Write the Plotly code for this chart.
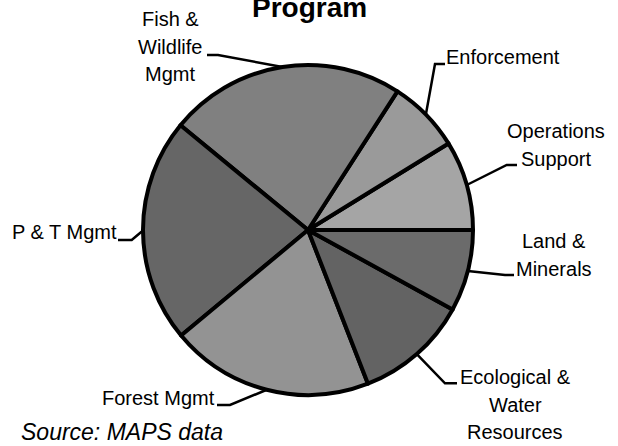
import math
import plotly.graph_objects as go

# ---- data ----
categories = ["Operations Support", "Enforcement", "Fish & Wildlife Mgmt", "P & T Mgmt",
              "Forest Mgmt", "Ecological & Water Resources", "Land & Minerals"]
label_lines = [["Operations", "Support"], ["Enforcement"], ["Fish &", "Wildlife", "Mgmt"], ["P & T Mgmt"],
               ["Forest Mgmt"], ["Ecological &", "Water", "Resources"], ["Land &", "Minerals"]]
values = [8.8, 7.1, 23.2, 22.0, 19.9, 11.1, 8.0]
colors = ["#a5a5a5", "#9a9a9a", "#808080", "#666666", "#939393", "#636363", "#6b6b6b"]
title_text = "Program"
source_text = "Source: MAPS data"

# ---- layout (pixels) ----
W, H = 618, 446
CX, CY, R = 308, 230, 165
LINE_GAP = 27.5
# tx: text centre x, ty: first line centre y
label_pos = [
    dict(tx=556, ty=131, knee=(506.7, 165), end=(517, 165)),
    dict(tx=503, ty=57, knee=(435, 64), end=(445, 64)),
    dict(tx=170, ty=19, knee=(218, 55), end=(207, 55)),
    dict(tx=64, ty=232, knee=(131.7, 240), end=(118, 240)),
    dict(tx=158, ty=398, knee=(230, 405), end=(217, 405)),
    dict(tx=515, ty=377, knee=(445, 383.3), end=(457, 383.3)),
    dict(tx=554, ty=241, knee=(505, 275), end=(514, 275)),
]
FONT = "Arial, Liberation Sans, sans-serif"

def px(x):
    return x / W

def py(y):
    return 1 - y / H

total = sum(values)
# first slice starts at 3 o'clock and runs counterclockwise
rotation = 90 - values[0] / total * 360

fig = go.Figure(go.Pie(
    labels=categories, values=values, sort=False, direction="counterclockwise",
    rotation=rotation, textinfo="none", hoverinfo="skip", showlegend=False,
    marker=dict(colors=colors, line=dict(color="black", width=4)),
    domain=dict(x=[px(CX - R), px(CX + R)], y=[py(CY + R), py(CY - R)]),
))

cum = 0.0
shapes = []
annotations = []
for v, lines, lp in zip(values, label_lines, label_pos):
    mid = (cum + v / 2) / total * 2 * math.pi
    cum += v
    ex = CX + R * math.cos(mid)
    ey = CY - R * math.sin(mid)
    kx, ky = lp["knee"]
    nx, ny = lp["end"]
    path = f"M {px(ex)},{py(ey)} L {px(kx)},{py(ky)} L {px(nx)},{py(ny)}"
    shapes.append(dict(type="path", path=path, xref="paper", yref="paper",
                       line=dict(color="black", width=2.5)))
    for i, line in enumerate(lines):
        annotations.append(dict(text=line, x=px(lp["tx"]), y=py(lp["ty"] + i * LINE_GAP),
                                xref="paper", yref="paper", showarrow=False,
                                xanchor="center", yanchor="middle",
                                font=dict(family=FONT, size=20, color="black")))

annotations.append(dict(text=f"<b>{title_text}</b>", x=px(309), y=py(7), xref="paper", yref="paper",
                        showarrow=False, xanchor="center", yanchor="middle",
                        font=dict(family=FONT, size=28, color="black")))
annotations.append(dict(text=f"<i>{source_text}</i>", x=px(122), y=py(432), xref="paper", yref="paper",
                        showarrow=False, xanchor="center", yanchor="middle",
                        font=dict(family=FONT, size=23, color="black")))

fig.update_layout(width=W, height=H, margin=dict(l=0, r=0, t=0, b=0),
                  paper_bgcolor="white", plot_bgcolor="white",
                  shapes=shapes, annotations=annotations)
fig.write_html("out.html", config={"displayModeBar": False},
               post_script="document.body.style.margin='0';")
